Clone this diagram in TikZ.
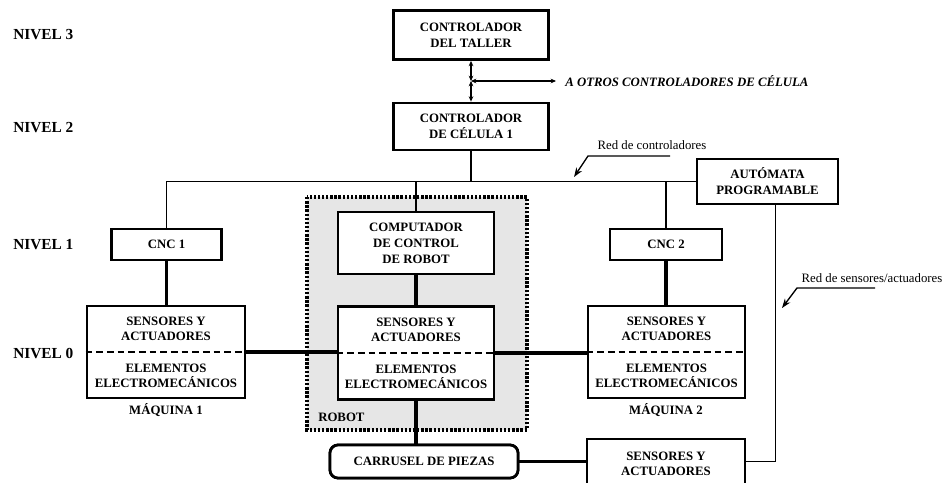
\documentclass[tikz,border=0pt]{standalone}
\usepackage{fontspec}
\setmainfont{Liberation Serif}
\usetikzlibrary{arrows.meta,calc}
\definecolor{robotgray}{HTML}{E6E6E6}
\begin{document}
\begin{tikzpicture}[x=0.75pt,y=-0.75pt,
  box/.style={draw,line width=2.1pt,fill=white,inner sep=0pt,align=center,font=\fontsize{9.6}{12}\selectfont\bfseries},
  sz/.style 2 args={minimum width=#1*0.75pt,minimum height=#2*0.75pt},
  lbl/.style={inner sep=0pt,align=center,font=\fontsize{9.6}{11}\selectfont\bfseries},
  nivel/.style={anchor=west,inner sep=0pt,font=\fontsize{11.5}{13}\selectfont\bfseries},
  thinln/.style={line width=1.05pt},
  thickln/.style={line width=2.9pt},
  splitln/.style={line width=1.2pt,dash pattern=on 5pt off 3pt},
  tip/.style={-{Stealth[length=7pt,width=5pt]},line width=1pt},
  sm/.style={{Stealth[length=4pt,width=3.5pt]}-{Stealth[length=4pt,width=3.5pt]},line width=1pt},
  note/.style={inner sep=0pt,font=\fontsize{9.6}{11}\selectfont},
  ]
\useasboundingbox (0,0) rectangle (949,482);

% robot region
\fill[robotgray] (307,197) rectangle (527,430);
\draw[line width=2.4pt,dash pattern=on 1.8pt off 1.3pt] (307,197) rectangle (527,430);

% level labels
\node[nivel] (n3) at (13,35) {NIVEL 3};
\node[nivel] (n2) at (13,128) {NIVEL 2};
\node[nivel] (n1) at (13,245) {NIVEL 1};
\node[nivel] (n0) at (13,354) {NIVEL 0};

% boxes (shapes first, for anchors)
\path
  node[box,sz={155}{49}] (taller) at (471,35) {}
  node[box,sz={155}{47}] (celula) at (471,126.5) {}
  node[box,sz={141}{45}] (automata) at (767.5,181.5) {}
  node[box,sz={110}{31}] (cnc1) at (166.5,244.5) {}
  node[box,sz={112}{31}] (cnc2) at (666,244.5) {}
  node[box,sz={156}{62}] (comp) at (416,243) {}
  node[box,sz={158}{92}] (maq1) at (166,352) {}
  node[box,sz={157}{92}] (maq2) at (666.5,352) {}
  node[box,sz={156}{93}] (robs) at (416,353) {}
  node[box,rounded corners=6pt,sz={188}{33}] (carr) at (424,461.5) {}
  node[box,sz={158}{45}] (sbot) at (666,461.5) {};

% connectors
\coordinate (jn) at (471,81);
\coordinate (aot) at (556,81);
\draw[sm] (taller.south) -- (jn);
\draw[sm] (jn) -- (celula.north);
\draw[sm] (jn) -- (aot);
\draw[thinln] (cnc1.north) |- (automata.west);
\draw[thinln] (celula.south) -- (celula.south |- automata.west);
\draw[thinln] (comp.north) -- (comp.north |- automata.west);
\draw[thinln] (cnc2.north) -- (cnc2.north |- automata.west);
\draw[thickln] (cnc1.south) -- (cnc1.south |- maq1.north);
\draw[thickln] (cnc2.south) -- (cnc2.south |- maq2.north);
\draw[thickln] (comp.south) -- (robs.north);
\draw[thickln] (maq1.east) -- (maq1.east -| robs.west);
\draw[thickln] (robs.east) -- (robs.east -| maq2.west);
\draw[thickln] (robs.south) -- (robs.south |- carr.north);
\draw[thickln] (carr.east) -- (carr.east -| sbot.west);
\coordinate (autdrop) at ($(automata.south)+(8,0)$);
\draw[thinln] (autdrop) |- (sbot.east);

% boxes drawn on top
\node[box,sz={155}{49}] at (taller) {CONTROLADOR\\DEL TALLER};
\node[box,sz={155}{47}] at (celula) {CONTROLADOR\\DE CÉLULA 1};
\node[box,sz={141}{45}] at (automata) {AUTÓMATA\\PROGRAMABLE};
\node[box,sz={110}{31}] at (cnc1) {CNC 1};
\node[box,sz={112}{31}] at (cnc2) {CNC 2};
\node[box,sz={156}{62}] at (comp) {COMPUTADOR\\DE CONTROL\\DE ROBOT};
\node[box,sz={158}{92}] at (maq1) {};
\node[box,sz={157}{92}] at (maq2) {};
\node[box,sz={156}{93}] at (robs) {};
\node[box,rounded corners=6pt,sz={188}{33}] at (carr) {CARRUSEL DE PIEZAS};
\node[box,sz={158}{45}] at (sbot) {};

% split boxes
\draw[splitln] (maq1.west) -- (maq1.east);
\draw[splitln] (maq2.west) -- (maq2.east);
\draw[splitln] (robs.west) -- (robs.east);
\node[lbl] (m1a) at (166,329) {SENSORES Y\\ACTUADORES};
\node[lbl] (m1b) at (166,376) {ELEMENTOS\\ELECTROMECÁNICOS};
\node[lbl] (m2a) at (666.5,329) {SENSORES Y\\ACTUADORES};
\node[lbl] (m2b) at (666.5,376) {ELEMENTOS\\ELECTROMECÁNICOS};
\node[lbl] (rba) at (416,330) {SENSORES Y\\ACTUADORES};
\node[lbl] (rbb) at (416,376.5) {ELEMENTOS\\ELECTROMECÁNICOS};
\node[lbl] (sba) at (666,463.5) {SENSORES Y\\ACTUADORES};

% captions
\node[lbl] (mq1) at (166,410) {MÁQUINA 1};
\node[lbl] (mq2) at (666,410) {MÁQUINA 2};
\node[lbl,anchor=west] (rob) at (318,417) {ROBOT};
\node[anchor=west,inner sep=0pt,font=\fontsize{9.6}{11}\selectfont\bfseries\itshape] (aotl) at (565,81) {A OTROS CONTROLADORES DE CÉLULA};

% network notes
\node[note] (rc) at (652,145) {Red de controladores};
\coordinate (rc1) at (670,156);
\coordinate (rc2) at (588,156);
\coordinate (rc3) at (574,177);
\draw[tip] (rc1) -- (rc2) -- (rc3);
\node[note] (rs) at (872,278) {Red de sensores/actuadores};
\coordinate (rs1) at (875,288);
\coordinate (rs2) at (797,288);
\coordinate (rs3) at (782,308);
\draw[tip] (rs1) -- (rs2) -- (rs3);
\end{tikzpicture}
\end{document}
